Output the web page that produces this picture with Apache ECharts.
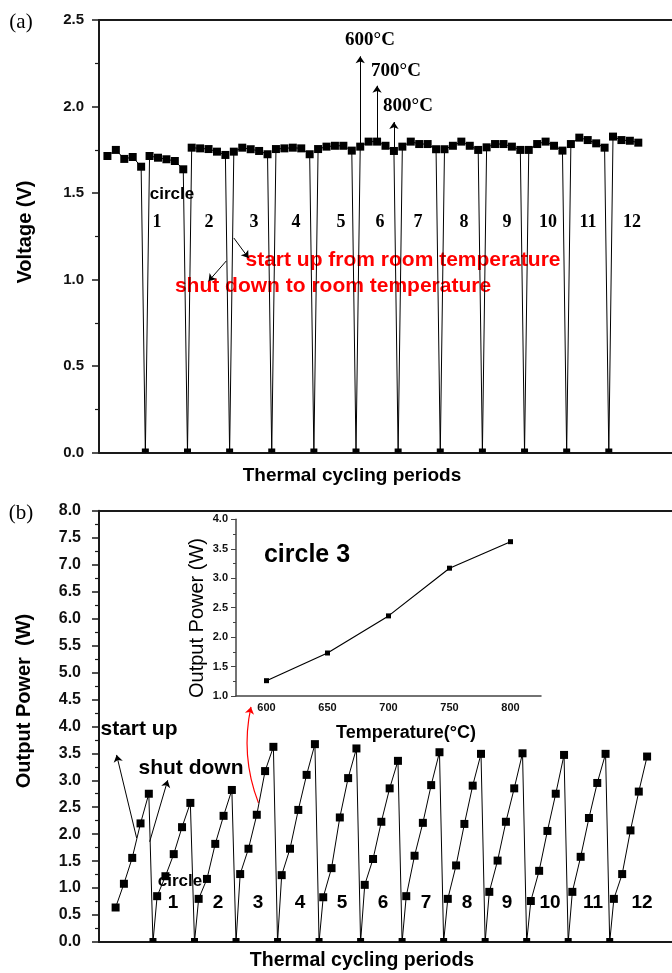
<!DOCTYPE html>
<html>
<head>
<meta charset="utf-8">
<script src="https://cdn.jsdelivr.net/npm/echarts@6.0.0/dist/echarts.min.js"></script>
<style>
  html, body { margin: 0; padding: 0; background: #fff; }
  #chart { width: 672px; height: 973px; }
</style>
</head>
<body>
<div id="chart"></div>
<script>
  // (a) voltage per heating cycle, 5 readings each (last run has 4)
  const voltageCycles = [
    [1.714, 1.749, 1.697, 1.708, 1.652],
    [1.714, 1.704, 1.695, 1.685, 1.637],
    [1.762, 1.758, 1.754, 1.739, 1.720],
    [1.739, 1.762, 1.753, 1.743, 1.724],
    [1.754, 1.758, 1.762, 1.758, 1.724],
    [1.754, 1.768, 1.773, 1.773, 1.745],
    [1.768, 1.797, 1.797, 1.773, 1.743],
    [1.768, 1.797, 1.783, 1.783, 1.753],
    [1.753, 1.773, 1.797, 1.773, 1.749],
    [1.764, 1.783, 1.783, 1.768, 1.749],
    [1.749, 1.783, 1.797, 1.773, 1.745],
    [1.783, 1.820, 1.806, 1.787, 1.762],
    [1.826, 1.806, 1.802, 1.791]
  ];

  // (b) output power per heating cycle (600..800 C)
  const powerCycles = [
    [0.64, 1.08, 1.56, 2.20, 2.75],
    [0.85, 1.22, 1.63, 2.13, 2.58],
    [0.80, 1.17, 1.82, 2.34, 2.82],
    [1.26, 1.73, 2.36, 3.17, 3.62],
    [1.24, 1.73, 2.45, 3.10, 3.67],
    [0.83, 1.37, 2.31, 3.04, 3.59],
    [1.06, 1.54, 2.23, 2.85, 3.36],
    [0.85, 1.60, 2.21, 2.91, 3.52],
    [0.80, 1.42, 2.19, 2.90, 3.49],
    [0.93, 1.51, 2.23, 2.85, 3.50],
    [0.76, 1.32, 2.06, 2.75, 3.47],
    [0.93, 1.58, 2.30, 2.95, 3.49],
    [0.80, 1.26, 2.07, 2.79, 3.44]
  ];

  // inset: circle 3
  const insetTemps = [600, 650, 700, 750, 800];
  const insetPower = [1.26, 1.73, 2.36, 3.17, 3.62];

  const cycleLabels = ['1', '2', '3', '4', '5', '6', '7', '8', '9', '10', '11', '12'];
  const tempLabels = ['600°C', '700°C', '800°C'];

  const SANS = '"Liberation Sans", Arial, sans-serif';
  const SERIF = '"Liberation Serif", "Times New Roman", serif';

  // readings sit on an integer grid, the room temperature point half way between runs
  const buildCycleData = cycles => {
    const pts = [];
    cycles.forEach((vals, c) => {
      vals.forEach((v, j) => pts.push([c * 5 + j, v]));
      if (c < cycles.length - 1) {
        pts.push({ value: [c * 5 + 4.5, 0], symbolSize: [7, 4], symbolOffset: [0, -2] });
      }
    });
    return pts;
  };

  const mainAxisLine = { show: true, onZero: false, lineStyle: { color: '#1a1a1a', width: 2 } };
  const hiddenX = (gridIndex, min, max, position) => ({
    type: 'value', gridIndex, min, max, position,
    axisLine: mainAxisLine,
    axisTick: { show: false },
    axisLabel: { show: false },
    splitLine: { show: false }
  });
  const mainY = (gridIndex, max, fontSize, margin) => ({
    type: 'value', gridIndex, min: 0, max, interval: 0.5,
    axisLine: mainAxisLine,
    axisTick: { show: true, length: 7, lineStyle: { color: '#1a1a1a', width: 1.5 } },
    minorTick: { show: true, splitNumber: 2, length: 4, lineStyle: { color: '#1a1a1a', width: 1.2 } },
    axisLabel: {
      color: '#111', fontFamily: SANS, fontWeight: 'bold', fontSize, margin,
      formatter: v => v.toFixed(1)
    },
    splitLine: { show: false },
    minorSplitLine: { show: false }
  });

  const arrow = (from, to) => [{ coord: from }, { coord: to }];

  const text = (x, y, str, font, extra, fill) => Object.assign({
    type: 'text', x, y, silent: true,
    style: {
      text: str, font, fill: fill || '#000',
      align: 'center', verticalAlign: 'middle',
      textAlign: 'center', textVerticalAlign: 'middle'
    }
  }, extra || {});

  const topNumX = [157, 209, 254, 296, 341, 380, 418, 464, 507, 548, 588, 632];
  const botNumX = [173, 218, 258, 300, 342, 383, 426, 467, 507, 550, 593, 642];

  const graphics = [
    text(21, 22, '(a)', '21px ' + SERIF),
    text(21, 513, '(b)', '21px ' + SERIF),
    text(25, 232, 'Voltage (V)', 'bold 20px ' + SANS, { rotation: Math.PI / 2 }),
    text(24, 701, 'Output Power  (W)', 'bold 20px ' + SANS, { rotation: Math.PI / 2 }),
    text(352, 476, 'Thermal cycling periods', 'bold 19px ' + SANS),
    text(362, 961, 'Thermal cycling periods', 'bold 19.5px ' + SANS),
    text(172, 194, 'circle', 'bold 17px ' + SANS),
    text(180, 881, 'circle', 'bold 17px ' + SANS),
    text(139, 729, 'start up', 'bold 21px ' + SANS),
    text(191, 768, 'shut down', 'bold 21px ' + SANS),
    text(403, 260, 'start up from room temperature', 'bold 21px ' + SANS, null, '#ff0000'),
    text(333, 286, 'shut down to room temperature', 'bold 21px ' + SANS, null, '#ff0000'),
    text(370, 40, tempLabels[0], 'bold 19px ' + SERIF),
    text(396, 71, tempLabels[1], 'bold 19px ' + SERIF),
    text(408, 106, tempLabels[2], 'bold 19px ' + SERIF),
    text(307, 555, 'circle 3', 'bold 25px ' + SANS),
    text(406, 733, 'Temperature(°C)', 'bold 18px ' + SANS),
    text(197, 618, 'Output Power (W)', '20px ' + SANS, { rotation: Math.PI / 2 })
  ];
  cycleLabels.forEach((lab, i) => {
    graphics.push(text(topNumX[i], 222, lab, 'bold 18px ' + SERIF));
    graphics.push(text(botNumX[i], 903, lab, 'bold 19px ' + SANS));
  });

  const chart = echarts.init(document.getElementById('chart'), null, { renderer: 'canvas' });

  chart.setOption({
    animation: false,
    backgroundColor: '#fff',
    textStyle: { fontFamily: SANS },
    grid: [
      { left: 99, top: 20, right: 0, height: 432.5, outerBoundsMode: 'none', containLabel: false },
      { left: 99, top: 510.7, right: 0, height: 431.3, outerBoundsMode: 'none', containLabel: false },
      { left: 236, top: 519.3, width: 305, height: 176.7, outerBoundsMode: 'none', containLabel: false }
    ],
    xAxis: [
      hiddenX(0, -1, 67, 'bottom'),
      hiddenX(0, -1, 67, 'top'),
      hiddenX(1, -2, 67, 'bottom'),
      hiddenX(1, -2, 67, 'top'),
      {
        type: 'value', gridIndex: 2, min: 575, max: 825,
        axisLine: { show: true, onZero: false, lineStyle: { color: '#444', width: 1.5 } },
        axisTick: { show: false },
        axisLabel: {
          color: '#111', fontFamily: SANS, fontWeight: 'bold', fontSize: 11, margin: 6,
          formatter: v => (v % 50 === 0 ? String(v) : '')
        },
        splitLine: { show: false }
      }
    ],
    yAxis: [
      mainY(0, 2.5, 15, 15),
      mainY(1, 8, 16, 18),
      {
        type: 'value', gridIndex: 2, min: 1, max: 4, interval: 0.5,
        axisLine: { show: true, onZero: false, lineStyle: { color: '#444', width: 1.5 } },
        axisTick: { show: true, length: 5, lineStyle: { color: '#444', width: 1 } },
        minorTick: { show: true, splitNumber: 2, length: 3, lineStyle: { color: '#444', width: 1 } },
        axisLabel: {
          color: '#111', fontFamily: SANS, fontWeight: 'bold', fontSize: 11, margin: 8,
          formatter: v => v.toFixed(1)
        },
        splitLine: { show: false },
        minorSplitLine: { show: false }
      }
    ],
    series: [
      {
        name: 'Voltage',
        type: 'line',
        xAxisIndex: 0, yAxisIndex: 0,
        data: buildCycleData(voltageCycles),
        symbol: 'rect', symbolSize: [8, 8],
        lineStyle: { color: '#000', width: 1 },
        itemStyle: { color: '#000' },
        markLine: {
          silent: true, symbol: ['none', 'arrow'], symbolSize: 7,
          label: { show: false },
          lineStyle: { color: '#000', width: 1, type: 'solid' },
          data: [
            arrow([30, 1.768], [30, 2.29]),
            arrow([32, 1.797], [32, 2.12]),
            arrow([34, 1.743], [34, 1.91]),
            arrow([15, 1.24], [16.75, 1.124]),
            arrow([14.1, 1.107], [12, 0.99])
          ]
        }
      },
      {
        name: 'Output power',
        type: 'line',
        xAxisIndex: 2, yAxisIndex: 1,
        data: buildCycleData(powerCycles),
        symbol: 'rect', symbolSize: 8,
        lineStyle: { color: '#000', width: 1 },
        itemStyle: { color: '#000' },
        markLine: {
          silent: true, symbol: ['none', 'arrow'], symbolSize: 7,
          label: { show: false },
          lineStyle: { color: '#000', width: 1, type: 'solid' },
          data: [
            arrow([2.53, 1.93], [0.12, 3.47]),
            arrow([4.1, 1.86], [6.27, 3.0])
          ]
        }
      },
      {
        // red pointer from circle 3 to the inset
        name: 'Pointer',
        type: 'lines',
        coordinateSystem: 'cartesian2d',
        xAxisIndex: 2, yAxisIndex: 1,
        silent: true,
        symbol: ['none', 'arrow'], symbolSize: 7,
        lineStyle: { color: '#ff0000', width: 1.2, curveness: 0.15, opacity: 1 },
        data: [{ coords: [[17.2, 2.58], [16.3, 4.36]] }]
      },
      {
        name: 'Circle 3',
        type: 'line',
        xAxisIndex: 4, yAxisIndex: 2,
        data: insetTemps.map((t, i) => [t, insetPower[i]]),
        symbol: 'rect', symbolSize: 5,
        lineStyle: { color: '#000', width: 1.2 },
        itemStyle: { color: '#000' }
      }
    ],
    graphic: graphics
  });
</script>
</body>
</html>
